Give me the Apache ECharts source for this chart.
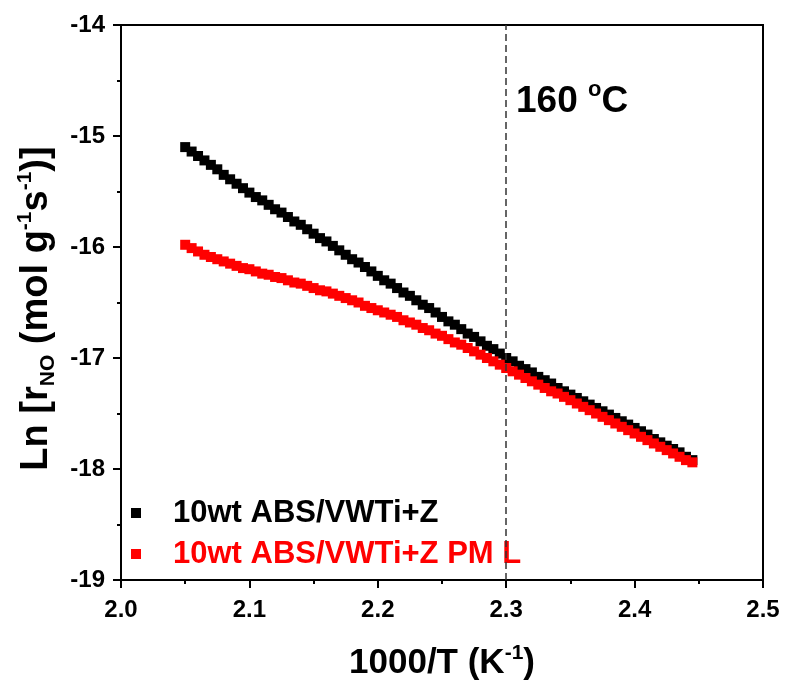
<!DOCTYPE html>
<html>
<head>
<meta charset="utf-8">
<title>Ln r(NO) vs 1000/T</title>
<script src="https://cdn.jsdelivr.net/npm/echarts@6/dist/echarts.min.js"></script>
<style>
  html, body { margin: 0; padding: 0; background: #ffffff; }
  #chart { width: 785px; height: 686px; }
</style>
</head>
<body>
<div id="chart"></div>
<script>
// Inverse temperature, 1000/T in K^-1 (shared by both samples)
const invT = [
  2.050, 2.055, 2.060, 2.065, 2.070, 2.075, 2.080, 2.085, 2.090, 2.095,
  2.100, 2.105, 2.110, 2.115, 2.120, 2.125, 2.130, 2.135, 2.140, 2.145,
  2.150, 2.155, 2.160, 2.165, 2.170, 2.175, 2.180, 2.185, 2.190, 2.195,
  2.200, 2.205, 2.210, 2.215, 2.220, 2.225, 2.230, 2.235, 2.240, 2.245,
  2.250, 2.255, 2.260, 2.265, 2.270, 2.275, 2.280, 2.285, 2.290, 2.295,
  2.300, 2.305, 2.310, 2.315, 2.320, 2.325, 2.330, 2.335, 2.340, 2.345,
  2.350, 2.355, 2.360, 2.365, 2.370, 2.375, 2.380, 2.385, 2.390, 2.395,
  2.400, 2.405, 2.410, 2.415, 2.420, 2.425, 2.430, 2.435, 2.440, 2.445
];

// Ln r_NO for 10wt ABS/VWTi+Z
const lnRateZ = [
  -15.10, -15.14, -15.18, -15.22, -15.26, -15.30, -15.35, -15.39, -15.43, -15.47,
  -15.51, -15.55, -15.58, -15.62, -15.66, -15.69, -15.73, -15.77, -15.80, -15.84,
  -15.88, -15.92, -15.95, -15.99, -16.03, -16.07, -16.11, -16.14, -16.18, -16.22,
  -16.26, -16.30, -16.33, -16.37, -16.41, -16.44, -16.48, -16.52, -16.55, -16.59,
  -16.63, -16.67, -16.70, -16.74, -16.78, -16.81, -16.85, -16.89, -16.92, -16.96,
  -17.00, -17.03, -17.07, -17.10, -17.13, -17.17, -17.20, -17.23, -17.27, -17.30,
  -17.33, -17.36, -17.39, -17.42, -17.45, -17.48, -17.51, -17.54, -17.57, -17.60,
  -17.63, -17.66, -17.69, -17.73, -17.76, -17.79, -17.82, -17.85, -17.89, -17.92
];

// Ln r_NO for 10wt ABS/VWTi+Z PM L
const lnRatePML = [
  -15.98, -16.01, -16.04, -16.07, -16.09, -16.11, -16.13, -16.15, -16.17, -16.19,
  -16.20, -16.22, -16.24, -16.25, -16.27, -16.28, -16.30, -16.32, -16.33, -16.35,
  -16.37, -16.39, -16.40, -16.42, -16.44, -16.46, -16.48, -16.50, -16.53, -16.55,
  -16.57, -16.59, -16.61, -16.63, -16.66, -16.68, -16.70, -16.73, -16.75, -16.78,
  -16.80, -16.83, -16.86, -16.88, -16.91, -16.94, -16.97, -17.00, -17.03, -17.06,
  -17.09, -17.12, -17.15, -17.18, -17.21, -17.24, -17.27, -17.30, -17.32, -17.35,
  -17.38, -17.41, -17.44, -17.47, -17.50, -17.53, -17.56, -17.59, -17.62, -17.65,
  -17.68, -17.71, -17.74, -17.77, -17.80, -17.83, -17.86, -17.89, -17.92, -17.94
];

const seriesNames = ['10wt ABS/VWTi+Z', '10wt ABS/VWTi+Z PM L'];
const seriesColors = ['#000000', '#ff0000'];

// 160 °C reference temperature, as 1000/T
const refInvT = [2.298];

// Axis ranges and tick steps
const xRange = [2.0, 2.5];
const xStep = 0.1;
const yRange = [-19, -14];
const yStep = 1;

const FONT = '"Liberation Sans", Arial, Helvetica, sans-serif';

function pairs(xs, ys) {
  return xs.map((x, i) => [x, ys[i]]);
}

const chart = echarts.init(document.getElementById('chart'), null, { renderer: 'canvas' });

chart.setOption({
  animation: false,
  backgroundColor: '#ffffff',
  grid: {
    left: 121, right: 22, top: 25, bottom: 104,
    show: true, borderColor: '#000000', borderWidth: 2, backgroundColor: 'transparent'
  },
  xAxis: {
    type: 'value',
    min: xRange[0], max: xRange[1], interval: xStep,
    name: '{a|1000/T (K}{sup|-1}{a|)}',
    nameLocation: 'middle',
    nameGap: 63,
    nameTextStyle: {
      rich: {
        a: { fontFamily: FONT, fontWeight: 'bold', fontSize: 35, color: '#000', lineHeight: 38, verticalAlign: 'bottom' },
        sup: { fontFamily: FONT, fontWeight: 'bold', fontSize: 21, color: '#000', lineHeight: 38, verticalAlign: 'top' }
      }
    },
    axisLine: { show: true, onZero: false, lineStyle: { color: '#000', width: 2 } },
    axisTick: { show: true, inside: false, length: 8, lineStyle: { color: '#000', width: 2 } },
    minorTick: { show: true, splitNumber: 2, length: 4, lineStyle: { color: '#000', width: 2 } },
    splitLine: { show: false },
    axisLabel: {
      margin: 18,
      fontFamily: FONT, fontWeight: 'bold', fontSize: 24, color: '#000',
      formatter: v => v.toFixed(1)
    }
  },
  yAxis: {
    type: 'value',
    min: yRange[0], max: yRange[1], interval: yStep,
    name: '{a|Ln [r}{sub|NO}{a| (mol g}{sup|-1}{a|s}{sup|-1}{a|)]}',
    nameLocation: 'middle',
    nameRotate: 90,
    nameGap: 62,
    nameTextStyle: {
      padding: [0, 12, 0, 0],
      rich: {
        a: { fontFamily: FONT, fontWeight: 'bold', fontSize: 38, color: '#000', lineHeight: 44, verticalAlign: 'middle' },
        sub: { fontFamily: FONT, fontWeight: 'bold', fontSize: 21, color: '#000', lineHeight: 44, verticalAlign: 'bottom' },
        sup: { fontFamily: FONT, fontWeight: 'bold', fontSize: 21, color: '#000', lineHeight: 44, verticalAlign: 'top' }
      }
    },
    axisLine: { show: true, onZero: false, lineStyle: { color: '#000', width: 2 } },
    axisTick: { show: true, inside: false, length: 8, lineStyle: { color: '#000', width: 2 } },
    minorTick: { show: true, splitNumber: 2, length: 4, lineStyle: { color: '#000', width: 2 } },
    splitLine: { show: false },
    axisLabel: {
      margin: 16,
      fontFamily: FONT, fontWeight: 'bold', fontSize: 24, color: '#000',
      formatter: v => String(v)
    }
  },
  legend: {
    orient: 'vertical',
    left: 126, top: 492,
    icon: 'rect',
    itemWidth: 10, itemHeight: 10,
    itemGap: 9,
    selectedMode: false,
    textStyle: { fontFamily: FONT, fontWeight: 'bold', fontSize: 31, lineHeight: 32, padding: [0, 0, 0, 27] },
    data: seriesNames.map((n, i) => ({ name: n, textStyle: { color: seriesColors[i] } }))
  },
  graphic: [
    {
      type: 'text',
      left: 516, top: 79,
      style: {
        text: '{a|160 }{sup|o}{a|C}',
        rich: {
          a: { fontFamily: FONT, fontWeight: 'bold', fontSize: 37, fill: '#000', lineHeight: 41, verticalAlign: 'bottom' },
          sup: { fontFamily: FONT, fontWeight: 'bold', fontSize: 22, fill: '#000', lineHeight: 41, verticalAlign: 'top' }
        }
      }
    }
  ],
  series: [
    {
      name: seriesNames[0],
      type: 'scatter',
      symbol: 'rect',
      symbolSize: 10,
      itemStyle: { color: seriesColors[0], opacity: 1 },
      data: pairs(invT, lnRateZ),
      markLine: {
        silent: true,
        symbol: ['none', 'none'],
        label: { show: false },
        lineStyle: { color: '#333333', width: 1.5, type: [7, 4] },
        data: refInvT.map(v => ({ xAxis: v }))
      }
    },
    {
      name: seriesNames[1],
      type: 'scatter',
      symbol: 'rect',
      symbolSize: 10,
      itemStyle: { color: seriesColors[1], opacity: 1 },
      data: pairs(invT, lnRatePML)
    }
  ]
});
</script>
</body>
</html>
